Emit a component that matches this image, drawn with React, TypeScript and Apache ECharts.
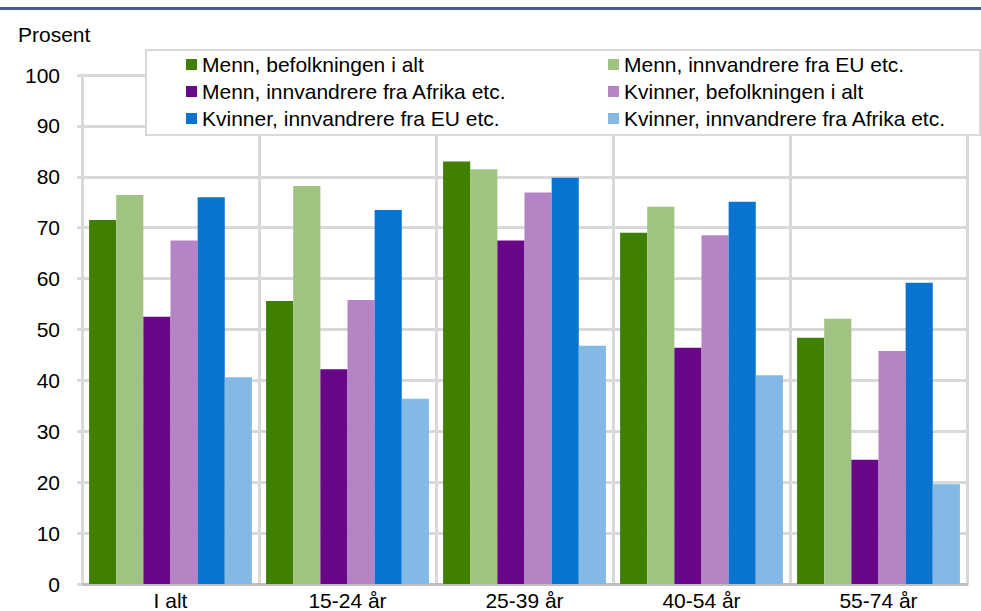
import React, { useEffect, useRef } from "react";
import * as echarts from "echarts";

const categories = ["I alt", "15-24 år", "25-39 år", "40-54 år", "55-74 år"];
const seriesNames = [
  "Menn, befolkningen i alt",
  "Menn, innvandrere fra EU etc.",
  "Menn, innvandrere fra Afrika etc.",
  "Kvinner, befolkningen i alt",
  "Kvinner, innvandrere fra EU etc.",
  "Kvinner, innvandrere fra Afrika etc.",
];
const mennBefolkningen = [71.5, 55.6, 83.0, 69.0, 48.4];
const mennEU = [76.4, 78.2, 81.5, 74.1, 52.1];
const mennAfrika = [52.5, 42.2, 67.5, 46.4, 24.4];
const kvinnerBefolkningen = [67.5, 55.8, 76.9, 68.5, 45.8];
const kvinnerEU = [76.0, 73.5, 79.8, 75.1, 59.2];
const kvinnerAfrika = [40.6, 36.4, 46.8, 41.0, 19.6];
const colors = ["#3f8000", "#a0c382", "#680788", "#b584c4", "#0874d0", "#84b9e6"];
const yTicks = { min: 0, max: 100, interval: 10 };

const FONT = "'Liberation Sans', Arial, sans-serif";

export default function App() {
  const ref = useRef<HTMLDivElement>(null);
  useEffect(() => {
    document.body.style.margin = "0";
    if (!ref.current) return;
    const chart = echarts.init(ref.current, null, { renderer: "svg" });
    const allData = [mennBefolkningen, mennEU, mennAfrika, kvinnerBefolkningen, kvinnerEU, kvinnerAfrika];
    const legendText = { color: "#000", fontSize: 21, fontFamily: FONT, lineHeight: 21 };
    chart.setOption({
      animation: false,
      textStyle: { fontFamily: FONT },
      grid: { left: 82, right: 14, top: 75, bottom: 27, containLabel: false },
      legend: [
        {
          data: [seriesNames[0], seriesNames[2], seriesNames[4]],
          orient: "vertical",
          left: 186,
          top: 54,
          padding: 0,
          itemWidth: 11,
          itemHeight: 11,
          itemGap: 6,
          icon: "rect",
          textStyle: legendText,
          z: 5,
        },
        {
          data: [seriesNames[1], seriesNames[3], seriesNames[5]],
          orient: "vertical",
          left: 608,
          top: 54,
          padding: 0,
          itemWidth: 11,
          itemHeight: 11,
          itemGap: 6,
          icon: "rect",
          textStyle: legendText,
          z: 5,
        },
      ],
      graphic: [
        {
          type: "rect",
          shape: { x: 0, y: 7, width: 981, height: 3 },
          style: { fill: "#4a5d8c" },
          z: 10,
        },
        {
          type: "rect",
          shape: { x: 146, y: 50, width: 834, height: 85 },
          style: { fill: "#ffffff", stroke: "#d9d9d9", lineWidth: 2 },
          z: 4,
        },
        {
          type: "text",
          left: 18,
          top: 24,
          style: { text: "Prosent", fontSize: 21, fontFamily: FONT, fill: "#000" },
          z: 10,
        },
      ],
      xAxis: {
        type: "category",
        data: categories,
        boundaryGap: true,
        axisLine: { show: true, lineStyle: { color: "#bfbfbf", width: 3 } },
        axisTick: { show: false },
        axisLabel: { color: "#000", fontSize: 21, fontFamily: FONT, margin: 6 },
        splitLine: { show: true, lineStyle: { color: "#d9d9d9", width: 3 } },
      },
      yAxis: {
        type: "value",
        min: yTicks.min,
        max: yTicks.max,
        interval: yTicks.interval,
        axisLine: { show: true, lineStyle: { color: "#d9d9d9", width: 3 } },
        axisTick: { show: true, length: 5, lineStyle: { color: "#d9d9d9", width: 3 } },
        axisLabel: { color: "#000", fontSize: 21, fontFamily: FONT, margin: 22 },
        splitLine: { show: true, lineStyle: { color: "#d9d9d9", width: 3 } },
      },
      series: allData.map((d, i) => ({
        name: seriesNames[i],
        type: "bar",
        data: d,
        barGap: "0%",
        barCategoryGap: "8%",
        itemStyle: { color: colors[i] },
        z: 2,
      })),
    });
    return () => chart.dispose();
  }, []);
  return <div ref={ref} style={{ width: 981, height: 611 }} />;
}
